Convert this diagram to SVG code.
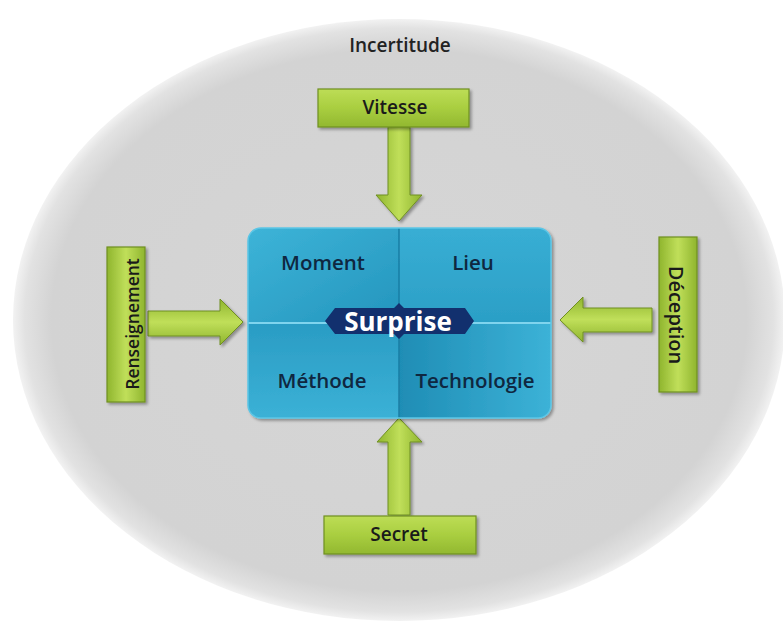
<svg xmlns="http://www.w3.org/2000/svg" width="783" height="630" viewBox="0 0 783 630">
<defs>
<radialGradient id="bg" cx="0.5" cy="0.5" r="0.5">
<stop offset="0" stop-color="#d6d6d6"/>
<stop offset="0.9" stop-color="#d3d3d3"/>
<stop offset="0.97" stop-color="#e2e2e2"/>
<stop offset="1" stop-color="#f2f2f2"/>
</radialGradient>
<linearGradient id="gh" x1="0" y1="0" x2="0" y2="1">
<stop offset="0" stop-color="#bddd56"/>
<stop offset="0.5" stop-color="#a9ce40"/>
<stop offset="1" stop-color="#92b830"/>
</linearGradient>
<linearGradient id="gv" x1="0" y1="0" x2="1" y2="0">
<stop offset="0" stop-color="#8fb52e"/>
<stop offset="0.5" stop-color="#c0df5a"/>
<stop offset="1" stop-color="#8fb52e"/>
</linearGradient>
<linearGradient id="ghz" x1="0" y1="0" x2="0" y2="1">
<stop offset="0" stop-color="#8fb52e"/>
<stop offset="0.5" stop-color="#c0df5a"/>
<stop offset="1" stop-color="#8fb52e"/>
</linearGradient>
<linearGradient id="q1" x1="0" y1="0" x2="1" y2="1">
<stop offset="0" stop-color="#3db4d8"/>
<stop offset="1" stop-color="#2495bd"/>
</linearGradient>
<linearGradient id="q2" x1="0" y1="0" x2="0" y2="1">
<stop offset="0" stop-color="#38aed4"/>
<stop offset="1" stop-color="#2b9fc6"/>
</linearGradient>
<linearGradient id="q3" x1="0" y1="0" x2="0" y2="1">
<stop offset="0" stop-color="#2a9cc4"/>
<stop offset="1" stop-color="#3bb1d6"/>
</linearGradient>
<linearGradient id="q4" x1="0" y1="0" x2="1" y2="0">
<stop offset="0" stop-color="#1f8db5"/>
<stop offset="1" stop-color="#3cb2d7"/>
</linearGradient>
<clipPath id="bc"><rect x="248" y="228" width="303" height="190" rx="13"/></clipPath>
<filter id="sh" x="-10%" y="-10%" width="130%" height="130%">
<feGaussianBlur in="SourceAlpha" stdDeviation="1.5"/>
<feOffset dx="1.5" dy="2" result="b"/>
<feComponentTransfer><feFuncA type="linear" slope="0.35"/></feComponentTransfer>
<feMerge><feMergeNode/><feMergeNode in="SourceGraphic"/></feMerge>
</filter>
</defs>
<style>
.lbl{font-family:"Open Sans","Liberation Sans",sans-serif;font-weight:600;font-size:19px;fill:#1a1a1a;text-anchor:middle}
.q{font-family:"Open Sans","Liberation Sans",sans-serif;font-weight:600;font-size:20.5px;fill:#0f2740;text-anchor:middle}
.box{stroke:#6f8f22;stroke-width:1.2}
.arr{stroke:#6f8f22;stroke-width:1}
</style>
<rect width="783" height="630" fill="#ffffff"/>
<g id="incertitude">
<ellipse cx="399" cy="320" rx="386" ry="301" fill="url(#bg)"/>
<text x="400" y="52" class="lbl" style="font-size:19px;fill:#222222">Incertitude</text>
</g>
<g id="connectors">
<path class="arr" fill="url(#gv)" filter="url(#sh)" d="M388,127 L410,127 L410,195 L422,195 L399,221 L376,195 L388,195 Z"/>
<path class="arr" fill="url(#gv)" filter="url(#sh)" d="M388,515 L410,515 L410,442 L422,442 L399,418 L377,442 L388,442 Z"/>
<path class="arr" fill="url(#ghz)" filter="url(#sh)" d="M148,311 L220,311 L220,299 L243,322 L220,345 L220,336 L148,336 Z"/>
<path class="arr" fill="url(#ghz)" filter="url(#sh)" d="M652,308 L583,308 L583,297 L560,320 L583,342 L583,332 L652,332 Z"/>
</g>
<g id="surprise-box" filter="url(#sh)">
<g clip-path="url(#bc)">
<rect x="248" y="228" width="151" height="95" fill="url(#q1)"/>
<rect x="399" y="228" width="152" height="95" fill="url(#q2)"/>
<rect x="248" y="323" width="151" height="95" fill="url(#q3)"/>
<rect x="399" y="323" width="152" height="95" fill="url(#q4)"/>
<line x1="248" y1="323" x2="551" y2="323" stroke="#7fd4ee" stroke-width="2"/>
<line x1="399" y1="228" x2="399" y2="418" stroke="#1a7ea4" stroke-width="1.5"/>
</g>
<rect x="248" y="228" width="303" height="190" rx="13" fill="none" stroke="#5cc6e6" stroke-width="1.5"/>
</g>
<g id="moment"><text x="323" y="270" class="q">Moment</text></g>
<g id="lieu"><text x="473" y="270" class="q">Lieu</text></g>
<g id="methode"><text x="322" y="388" class="q">Méthode</text></g>
<g id="technologie"><text x="475" y="388" class="q">Technologie</text></g>
<g id="surprise">
<path d="M325,321 L335,308 L394,308 L399,303 L404,308 L465,308 L474,321 L465,334 L404,334 L399,339 L394,334 L335,334 Z" fill="#12306e"/>
<text x="398" y="331" style="font-family:'Open Sans','Liberation Sans',sans-serif;font-weight:700;font-size:26px;fill:#ffffff;text-anchor:middle">Surprise</text>
</g>
<g id="vitesse">
<rect x="318" y="89" width="151" height="38" fill="url(#gh)" class="box" filter="url(#sh)"/>
<text x="395" y="114" class="lbl">Vitesse</text>
</g>
<g id="secret">
<rect x="324" y="516" width="152" height="38" fill="url(#gh)" class="box" filter="url(#sh)"/>
<text x="399" y="541" class="lbl">Secret</text>
</g>
<g id="renseignement">
<rect x="107" y="247" width="38" height="155" fill="url(#gv)" class="box" filter="url(#sh)"/>
<text x="0" y="0" class="lbl" style="font-size:17.5px" transform="translate(139,324) rotate(-90)">Renseignement</text>
</g>
<g id="deception">
<rect x="659" y="237" width="38" height="155" fill="url(#gv)" class="box" filter="url(#sh)"/>
<text x="0" y="0" class="lbl" style="font-size:20px" transform="translate(669,315) rotate(90)">Déception</text>
</g>
</svg>
